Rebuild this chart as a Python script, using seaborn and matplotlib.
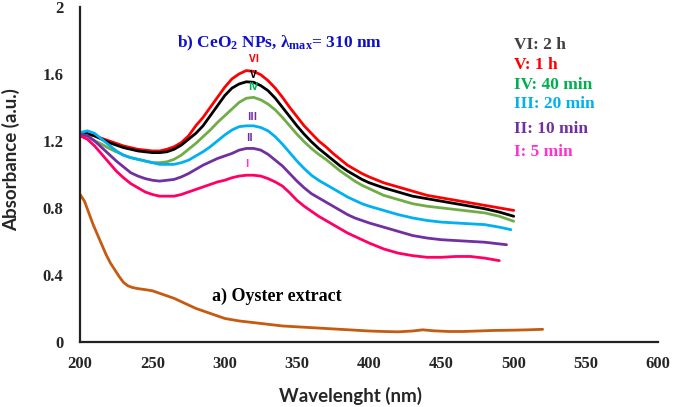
import numpy as np
import pandas as pd
import seaborn as sns
import matplotlib.pyplot as plt

# wavelength grid (nm) shared by the CeO2 curves
wl = [200, 205, 210, 215, 220, 225, 230, 235, 240, 245, 250, 255, 260, 265, 270, 275,
      280, 285, 290, 295, 300, 305, 310, 315, 320, 325, 330, 335, 340, 345, 350, 355,
      360, 365, 370, 375, 380, 385, 390, 395, 400, 410, 420, 430, 440, 450, 460, 470, 480]

abs_vi = [1.25, 1.24, 1.23, 1.215, 1.20, 1.185, 1.17, 1.16, 1.15, 1.145, 1.14, 1.14, 1.15, 1.165,
          1.19, 1.23, 1.29, 1.34, 1.40, 1.46, 1.52, 1.57, 1.60, 1.62, 1.615, 1.595, 1.56, 1.515,
          1.46, 1.40, 1.345, 1.29, 1.245, 1.20, 1.165, 1.125, 1.09, 1.055, 1.03, 1.005, 0.985,
          0.95, 0.925, 0.90, 0.875, 0.86, 0.845, 0.83, 0.815]
abs_v = [1.25, 1.245, 1.23, 1.21, 1.19, 1.175, 1.16, 1.15, 1.14, 1.135, 1.13, 1.13, 1.135, 1.15,
         1.175, 1.21, 1.245, 1.29, 1.35, 1.41, 1.47, 1.515, 1.54, 1.553, 1.55, 1.53, 1.50, 1.455,
         1.40, 1.345, 1.29, 1.24, 1.195, 1.155, 1.12, 1.085, 1.05, 1.02, 0.995, 0.97, 0.95,
         0.92, 0.895, 0.87, 0.855, 0.84, 0.825, 0.81, 0.795]
abs_iv = [1.24, 1.23, 1.20, 1.18, 1.155, 1.135, 1.115, 1.10, 1.09, 1.08, 1.07, 1.07, 1.075, 1.09,
          1.115, 1.15, 1.185, 1.225, 1.265, 1.31, 1.35, 1.39, 1.43, 1.455, 1.46, 1.445, 1.42,
          1.385, 1.34, 1.29, 1.24, 1.195, 1.155, 1.12, 1.09, 1.055, 1.02, 0.99, 0.96, 0.935, 0.915,
          0.875, 0.85, 0.825, 0.81, 0.80, 0.79, 0.78, 0.77]
abs_iii = [1.25, 1.26, 1.245, 1.21, 1.175, 1.14, 1.115, 1.10, 1.09, 1.08, 1.07, 1.06, 1.06, 1.06,
           1.07, 1.085, 1.11, 1.135, 1.165, 1.20, 1.235, 1.265, 1.285, 1.29, 1.29, 1.28, 1.26,
           1.225, 1.18, 1.13, 1.08, 1.035, 0.995, 0.965, 0.94, 0.915, 0.89, 0.865, 0.845, 0.825,
           0.81, 0.785, 0.76, 0.74, 0.725, 0.715, 0.71, 0.705, 0.70]
abs_ii = [1.24, 1.23, 1.20, 1.16, 1.12, 1.08, 1.045, 1.01, 0.99, 0.975, 0.965, 0.96, 0.965, 0.97,
          0.985, 1.005, 1.03, 1.055, 1.075, 1.095, 1.11, 1.125, 1.145, 1.155, 1.155, 1.145, 1.12,
          1.085, 1.05, 1.005, 0.96, 0.92, 0.885, 0.86, 0.835, 0.81, 0.785, 0.76, 0.74, 0.725,
          0.71, 0.685, 0.66, 0.635, 0.62, 0.61, 0.605, 0.60, 0.595]
abs_i = [1.23, 1.21, 1.17, 1.12, 1.07, 1.02, 0.98, 0.945, 0.92, 0.895, 0.88, 0.87, 0.87, 0.87,
         0.88, 0.895, 0.91, 0.925, 0.94, 0.955, 0.965, 0.98, 0.99, 0.995, 0.995, 0.99, 0.975,
         0.955, 0.93, 0.89, 0.845, 0.81, 0.78, 0.75, 0.725, 0.70, 0.675, 0.65, 0.63, 0.61, 0.59,
         0.555, 0.53, 0.515, 0.505, 0.505, 0.51, 0.51, 0.50]

# last points of each curve (they stop at slightly different wavelengths)
end_wl = [[490, 500], [490, 500], [490, 500], [490, 498], [495], [490]]
end_abs = [[0.80, 0.785], [0.775, 0.75], [0.75, 0.72], [0.685, 0.67], [0.58], [0.485]]

# oyster extract
wl_oyster = [200, 203, 206, 209, 212, 215, 218, 221, 224, 227, 230, 233, 236, 240, 245, 250,
             255, 260, 265, 270, 275, 280, 285, 290, 295, 300, 310, 320, 330, 340, 350, 360,
             370, 380, 390, 400, 410, 420, 430, 437, 445, 455, 465, 475, 485, 500, 510, 520]
abs_oyster = [0.88, 0.84, 0.77, 0.70, 0.64, 0.58, 0.52, 0.47, 0.43, 0.39, 0.355, 0.335, 0.325,
              0.318, 0.312, 0.305, 0.29, 0.275, 0.26, 0.24, 0.22, 0.20, 0.185, 0.17, 0.155, 0.14,
              0.125, 0.115, 0.105, 0.095, 0.09, 0.085, 0.08, 0.075, 0.07, 0.065, 0.062, 0.06,
              0.065, 0.072, 0.066, 0.062, 0.062, 0.065, 0.068, 0.07, 0.072, 0.075]

curve_names = ['VI', 'V', 'IV', 'III', 'II', 'I']
curve_vals = [abs_vi, abs_v, abs_iv, abs_iii, abs_ii, abs_i]
line_colors = ['#FF0000', '#000000', '#70AD47', '#00B0F0', '#7030A0', '#FF0066']

legend_labels = ['VI: 2 h', 'V: 1 h', 'IV: 40 min', 'III: 20 min', 'II: 10 min', 'I: 5 min']
legend_colors = ['#404040', '#FF0000', '#00B050', '#00B0F0', '#7030A0', '#FF33CC']
peak_colors = ['#FF0000', '#000000', '#00B050', '#7030A0', '#7030A0', '#FF33CC']

rows = []
for name, vals, ew, ea in zip(curve_names, curve_vals, end_wl, end_abs):
    for w, a in zip(wl + ew, vals + ea):
        rows.append({'Wavelength': w, 'Absorbance': a, 'Sample': name})
for w, a in zip(wl_oyster, abs_oyster):
    rows.append({'Wavelength': w, 'Absorbance': a, 'Sample': 'Oyster'})
df = pd.DataFrame(rows)

sns.set_style("white")
plt.rcParams['mathtext.fontset'] = 'custom'
plt.rcParams['mathtext.rm'] = 'Liberation Serif:bold'
plt.rcParams['mathtext.it'] = 'Liberation Serif:bold'
plt.rcParams['mathtext.bf'] = 'Liberation Serif:bold'

fig = plt.figure(figsize=(6.85, 4.07), dpi=100)
ax = fig.add_axes([0.117, 0.16, 0.844, 0.823])

palette = dict(zip(curve_names + ['Oyster'], line_colors + ['#C55A11']))
sns.lineplot(data=df, x='Wavelength', y='Absorbance', hue='Sample', palette=palette,
             linewidth=2.0, legend=False, ax=ax, sort=False, estimator=None)

sns.despine(ax=ax)
for side in ['left', 'bottom']:
    ax.spines[side].set_color('#222222')
    ax.spines[side].set_linewidth(1.6)

ax.set_xlim(200, 600)
ax.set_ylim(0, 2)
ax.set_xticks(range(200, 601, 50))
ax.set_yticks([0, 0.4, 0.8, 1.2, 1.6, 2])
ax.set_yticklabels(['0', '0.4', '0.8', '1.2', '1.6', '2'])
ax.tick_params(axis='x', length=0, pad=10)
ax.tick_params(axis='y', length=0, pad=12)
for lab in ax.get_xticklabels() + ax.get_yticklabels():
    lab.set_fontfamily('Liberation Serif')
    lab.set_fontweight('bold')
    lab.set_fontsize(12)

ax.set_xlabel('Wavelenght (nm)', fontfamily='Lato', fontweight='bold', fontsize=13.5)
ax.set_ylabel('Absorbance (a.u.)', fontfamily='Lato', fontweight='bold', fontsize=13.5)
ax.xaxis.set_label_coords(0.467, -0.135)
ax.yaxis.set_label_coords(-0.104, 0.543)

# annotations
ax.text(267, 1.785, r'b) CeO$_\mathrm{2}$ NPs, λ$_\mathrm{max}$= 310 nm', color='#1010C8',
        fontfamily='Liberation Serif', fontweight='bold', fontsize=12.5, va='center')
ax.text(291, 0.27, 'a) Oyster extract', color='black',
        fontfamily='Liberation Serif', fontweight='bold', fontsize=13, va='center')

peak_pos = [(320, 1.685), (320, 1.59), (320, 1.52), (319, 1.34), (317, 1.215), (315, 1.06)]
for name, (px, py), c in zip(curve_names, peak_pos, peak_colors):
    ax.text(px, py, name, color=c, fontfamily='Open Sans', fontweight='bold',
            fontsize=7.5, ha='center', va='center')

leg_y = [1.773, 1.654, 1.534, 1.42, 1.27, 1.134]
for lab, c, y in zip(legend_labels, legend_colors, leg_y):
    ax.text(500, y, lab, color=c, fontfamily='Liberation Serif', fontweight='bold',
            fontsize=12.5, va='center')

fig.savefig('out.png', dpi=100)
